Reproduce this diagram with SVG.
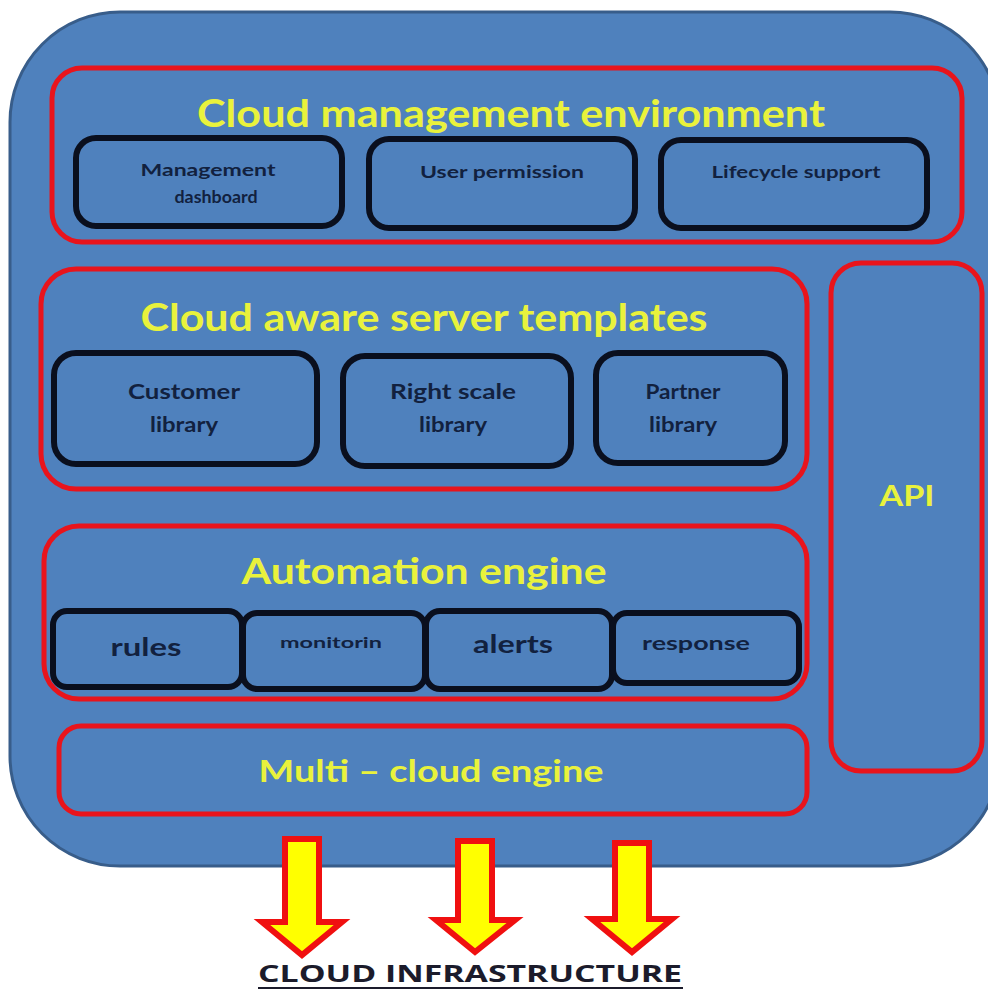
<svg xmlns="http://www.w3.org/2000/svg" width="988" height="994" viewBox="0 0 988 994">
<style>
.outer{fill:#4F81BD;stroke:#385D8A;stroke-width:3}
.grp{fill:#4F81BD;stroke:#E8141C;stroke-width:5}
.item{fill:#4F81BD;stroke:#0A0F1E;stroke-width:6}
.title{font-family:Lato,"Open Sans","Liberation Sans",sans-serif;font-weight:bold;fill:#E9F23C;text-anchor:middle}
.lbl{font-family:Lato,"Open Sans","Liberation Sans",sans-serif;font-weight:bold;fill:#12213F;text-anchor:middle}
.arrow{fill:#FFFF00;stroke:#F01010;stroke-width:6;stroke-linejoin:miter}
</style>
<rect width="988" height="994" fill="#FFFFFF"/>
<g id="platform">
<rect class="outer" x="10" y="12" width="990" height="854" rx="110" ry="110"/>
</g>
<g id="cloud-management-environment">
<rect class="grp" x="52" y="68" width="910" height="174" rx="30"/>
<text class="title" x="511" y="127" font-size="38" textLength="628" lengthAdjust="spacingAndGlyphs">Cloud management environment</text>
</g>
<g id="management-dashboard">
<rect class="item" x="76" y="138" width="266" height="88" rx="20"/>
<text class="lbl" x="208" y="176" font-size="17" textLength="135" lengthAdjust="spacingAndGlyphs">Management</text>
<text class="lbl" x="216" y="203" font-size="17" textLength="83" lengthAdjust="spacingAndGlyphs">dashboard</text>
</g>
<g id="user-permission">
<rect class="item" x="369" y="139" width="266" height="89" rx="20"/>
<text class="lbl" x="502" y="178" font-size="17" textLength="164" lengthAdjust="spacingAndGlyphs">User permission</text>
</g>
<g id="lifecycle-support">
<rect class="item" x="661" y="140" width="266" height="88" rx="20"/>
<text class="lbl" x="796" y="178" font-size="17" textLength="169" lengthAdjust="spacingAndGlyphs">Lifecycle support</text>
</g>
<g id="cloud-aware-server-templates">
<rect class="grp" x="41" y="269" width="766" height="220" rx="35"/>
<text class="title" x="424" y="331" font-size="38" textLength="567" lengthAdjust="spacingAndGlyphs">Cloud aware server templates</text>
</g>
<g id="customer-library">
<rect class="item" x="54" y="353" width="263" height="111" rx="22"/>
<text class="lbl" x="184" y="399" font-size="21" textLength="112" lengthAdjust="spacingAndGlyphs">Customer</text>
<text class="lbl" x="184" y="432" font-size="21" textLength="68" lengthAdjust="spacingAndGlyphs">library</text>
</g>
<g id="right-scale-library">
<rect class="item" x="343" y="356" width="228" height="110" rx="22"/>
<text class="lbl" x="453" y="399" font-size="21" textLength="126" lengthAdjust="spacingAndGlyphs">Right scale</text>
<text class="lbl" x="453" y="432" font-size="21" textLength="68" lengthAdjust="spacingAndGlyphs">library</text>
</g>
<g id="partner-library">
<rect class="item" x="596" y="353" width="189" height="110" rx="22"/>
<text class="lbl" x="683" y="399" font-size="21" textLength="75" lengthAdjust="spacingAndGlyphs">Partner</text>
<text class="lbl" x="683" y="432" font-size="21" textLength="68" lengthAdjust="spacingAndGlyphs">library</text>
</g>
<g id="api">
<rect class="grp" x="831" y="263" width="151" height="508" rx="30"/>
<text class="title" x="907" y="506" font-size="29" textLength="55" lengthAdjust="spacingAndGlyphs">API</text>
</g>
<g id="automation-engine">
<rect class="grp" x="44" y="526" width="763" height="173" rx="35"/>
<text class="title" x="424" y="584" font-size="36" textLength="365" lengthAdjust="spacingAndGlyphs">Automation engine</text>
</g>
<g id="rules">
<rect class="item" x="53" y="611" width="189" height="76" rx="14"/>
<text class="lbl" x="146" y="656" font-size="25" textLength="71" lengthAdjust="spacingAndGlyphs">rules</text>
</g>
<g id="monitorin">
<rect class="item" x="243" y="613" width="182" height="76" rx="14"/>
<text class="lbl" x="331" y="648" font-size="16" textLength="102" lengthAdjust="spacingAndGlyphs">monitorin</text>
</g>
<g id="alerts">
<rect class="item" x="426" y="611" width="186" height="78" rx="14"/>
<text class="lbl" x="513" y="653" font-size="25" textLength="80" lengthAdjust="spacingAndGlyphs">alerts</text>
</g>
<g id="response">
<rect class="item" x="613" y="613" width="186" height="70" rx="14"/>
<text class="lbl" x="696" y="650" font-size="18" textLength="108" lengthAdjust="spacingAndGlyphs">response</text>
</g>
<g id="multi-cloud-engine">
<rect class="grp" x="59" y="726" width="748" height="88" rx="22"/>
<text class="title" x="431" y="782" font-size="31" textLength="345" lengthAdjust="spacingAndGlyphs">Multi – cloud  engine</text>
</g>
<g id="connectors">
<path class="arrow" d="M285 839 H319 V922 H342 L302 955 L262 922 H285 Z"/>
<path class="arrow" d="M458 841 H492 V920 H515 L475 952 L436 920 H458 Z"/>
<path class="arrow" d="M615 843 H649 V919 H672 L632 952 L592 919 H615 Z"/>
</g>
<g id="cloud-infrastructure">
<text x="470" y="982" font-family="'Open Sans','Liberation Sans',sans-serif" font-weight="bold" font-size="24" fill="#1B1B2B" text-anchor="middle" textLength="424" lengthAdjust="spacingAndGlyphs">CLOUD INFRASTRUCTURE</text>
<line x1="258" y1="988" x2="683" y2="988" stroke="#1B1B2B" stroke-width="2"/>
</g>
</svg>
